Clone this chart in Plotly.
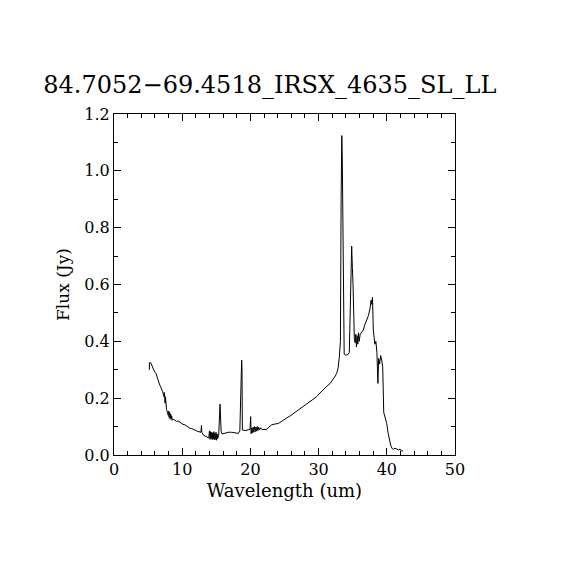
import plotly.graph_objects as go

# spectrum (um, Jy)
wavelength = [
    5.18, 5.20, 5.38, 5.52, 5.65, 5.77, 5.95, 6.16, 6.30, 6.50, 6.65, 6.84,
    7.00, 7.14, 7.25, 7.33, 7.38, 7.42, 7.46, 7.50, 7.55, 7.60, 7.70, 7.82,
    7.95, 8.02, 8.08, 8.15, 8.22, 8.30, 8.38, 8.45, 8.55, 8.70, 8.94, 9.20,
    9.40, 9.68, 9.90, 10.10, 10.41, 10.70, 10.90, 11.14, 11.40, 11.60, 11.88,
    12.10, 12.30, 12.60, 12.75, 12.82, 12.88, 13.10, 13.30, 13.50, 13.70,
    13.90, 14.00, 14.08, 14.16, 14.24, 14.32, 14.40, 14.48, 14.56, 14.64,
    14.72, 14.80, 14.88, 14.96, 15.04, 15.12, 15.20, 15.35, 15.45, 15.55,
    15.62, 15.70, 15.85, 16.10, 16.50, 16.80, 17.25, 17.60, 17.90, 18.23,
    18.45, 18.62, 18.72, 18.77, 18.82, 19.20, 19.60, 19.94, 20.04, 20.10,
    20.20, 20.30, 20.40, 20.50, 20.60, 20.70, 20.80, 20.90, 21.00, 21.10,
    21.20, 21.35, 21.50, 21.70, 22.00, 22.40, 22.70, 23.10, 23.60, 24.10,
    24.50, 24.80, 25.30, 25.80, 26.30, 26.80, 27.30, 27.76, 28.20, 28.70,
    29.20, 29.70, 30.20, 30.70, 31.20, 31.70, 32.15, 32.45, 32.65, 32.85,
    33.04, 33.20, 33.30, 33.40, 33.48, 33.55, 33.65, 33.75, 33.90, 34.20,
    34.50, 34.70, 34.85, 34.95, 35.05, 35.24, 35.35, 35.45, 35.55, 35.65,
    35.75, 35.85, 35.95, 36.10, 36.30, 36.56, 36.80, 37.05, 37.30, 37.54,
    37.70, 37.80, 37.90, 38.02, 38.15, 38.25, 38.40, 38.55, 38.70, 38.80,
    38.95, 39.10, 39.25, 39.40, 39.55, 39.80, 39.99, 40.20, 40.40, 40.56,
    40.80, 40.96, 41.20, 41.45, 41.70, 41.94, 42.15, 42.40,
]
flux = [
    0.300, 0.325, 0.325, 0.317, 0.308, 0.299, 0.293, 0.287, 0.275, 0.258, 0.250, 0.240,
    0.232, 0.223, 0.212, 0.205, 0.220, 0.190, 0.215, 0.182, 0.205, 0.170, 0.160, 0.152,
    0.140, 0.155, 0.132, 0.150, 0.128, 0.145, 0.125, 0.138, 0.122, 0.126, 0.123, 0.118,
    0.120, 0.114, 0.112, 0.108, 0.106, 0.100, 0.099, 0.094, 0.093, 0.090, 0.086,
    0.085, 0.083, 0.079, 0.080, 0.104, 0.080, 0.070, 0.068, 0.065, 0.062,
    0.060, 0.085, 0.055, 0.082, 0.058, 0.080, 0.054, 0.078, 0.056, 0.082,
    0.053, 0.076, 0.055, 0.080, 0.052, 0.074, 0.058, 0.070, 0.110, 0.179,
    0.140, 0.085, 0.074, 0.076, 0.078, 0.080, 0.080, 0.079, 0.078, 0.076,
    0.085, 0.264, 0.334, 0.300, 0.088, 0.086, 0.088, 0.090, 0.135, 0.075,
    0.095, 0.078, 0.098, 0.080, 0.100, 0.082, 0.098, 0.084, 0.100, 0.086,
    0.098, 0.088, 0.096, 0.090, 0.090, 0.090, 0.098, 0.106, 0.109, 0.111,
    0.117, 0.123, 0.130, 0.137, 0.146, 0.156, 0.163, 0.170, 0.180, 0.188,
    0.197, 0.205, 0.218, 0.231, 0.242, 0.252, 0.266, 0.278, 0.287, 0.305,
    0.346, 0.400, 0.900, 1.124, 1.030, 0.880, 0.500, 0.355, 0.352, 0.352,
    0.360, 0.600, 0.735, 0.660, 0.600, 0.410, 0.395, 0.425, 0.380, 0.420,
    0.390, 0.430, 0.400, 0.425, 0.430, 0.440, 0.460, 0.475, 0.490, 0.516,
    0.545, 0.530, 0.555, 0.440, 0.420, 0.390, 0.400, 0.360, 0.252, 0.340,
    0.320, 0.350, 0.334, 0.310, 0.150, 0.125, 0.111, 0.076, 0.050, 0.035,
    0.022, 0.020, 0.024, 0.021, 0.018, 0.021, 0.014, 0.015,
]

font = "DejaVu Serif"

fig = go.Figure()
fig.add_trace(go.Scatter(
    x=wavelength, y=flux, mode="lines",
    line=dict(color="black", width=1), showlegend=False,
))

axis_style = dict(
    showline=True, linecolor="black", linewidth=1, mirror="ticks",
    ticks="inside", ticklen=7, tickcolor="black", tickwidth=1,
    showgrid=False, zeroline=False,
    tickfont=dict(family=font, size=16, color="black"),
)

fig.update_xaxes(
    range=[0, 50], tickvals=[0, 10, 20, 30, 40, 50],
    minor=dict(ticks="inside", ticklen=4, dtick=2, tickcolor="black", showgrid=False),
    title=dict(text="Wavelength (um)", font=dict(family=font, size=18, color="black"), standoff=6),
    **axis_style,
)
fig.update_yaxes(
    range=[0, 1.2], tickvals=[0, 0.2, 0.4, 0.6, 0.8, 1.0, 1.2], tickformat=".1f",
    minor=dict(ticks="inside", ticklen=4, dtick=0.1, tickcolor="black", showgrid=False),
    title=dict(text="Flux (Jy)", font=dict(family=font, size=17, color="black"), standoff=10),
    **axis_style,
)

# page body adds 8px, so margins are shifted to keep the plot box where it is
fig.update_layout(
    width=570, height=570,
    margin=dict(l=106, r=123, t=106, b=123),
    paper_bgcolor="white", plot_bgcolor="white",
    title=dict(
        text="84.7052\u221269.4518_IRSX_4635_SL_LL",
        font=dict(family=font, size=24, color="black"),
        x=0.457, xref="paper", xanchor="center", y=0.865, yanchor="middle",
    ),
)

fig.write_html("out.html")
